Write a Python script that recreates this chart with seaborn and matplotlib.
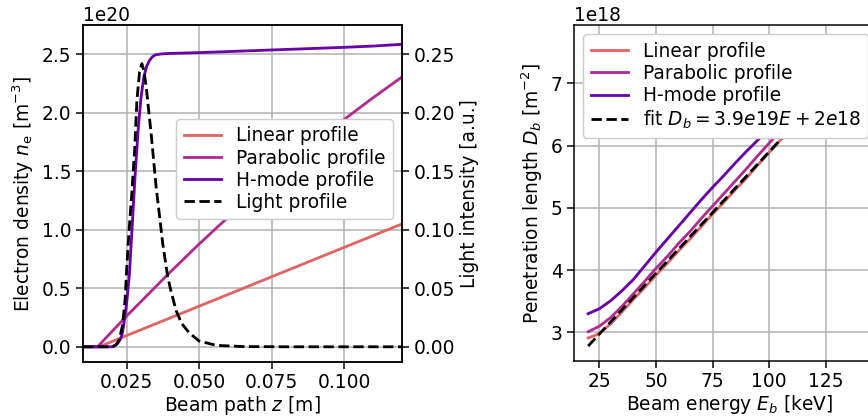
import numpy as np
import pandas as pd
import matplotlib
matplotlib.use("Agg")
import matplotlib.pyplot as plt
import seaborn as sns

# ---------------- data ----------------
# Left panel: electron density profiles along beam path (units 1e20 m^-3)
z_linear = [0.010, 0.0155, 0.040, 0.060, 0.080, 0.100, 0.120]
n_linear = [0.0, 0.0, 0.246, 0.447, 0.648, 0.849, 1.05]

z_parab = [0.010, 0.015, 0.025, 0.040, 0.050, 0.060, 0.070, 0.080,
           0.090, 0.100, 0.110, 0.120]
n_parab = [0.0, 0.0, 0.262, 0.637, 0.877, 1.107, 1.329, 1.542,
           1.746, 1.942, 2.128, 2.306]

z_hmode = [0.010, 0.020, 0.021, 0.022, 0.023, 0.0235, 0.024, 0.025, 0.026,
           0.027, 0.028, 0.029, 0.030, 0.031, 0.032, 0.033, 0.034, 0.035,
           0.037, 0.040, 0.050, 0.060, 0.070, 0.080, 0.090, 0.100, 0.110, 0.120]
n_hmode = [0.0, 0.0, 0.01, 0.03, 0.07, 0.11, 0.18, 0.36, 0.62,
           1.05, 1.48, 1.85, 2.13, 2.31, 2.40, 2.45, 2.48, 2.495,
           2.503, 2.507, 2.514, 2.523, 2.532, 2.541, 2.550, 2.559, 2.570, 2.585]

# Light profile (a.u.)
z_light = [0.010, 0.020, 0.0213, 0.0225, 0.0236, 0.0245, 0.0251, 0.0259,
           0.0268, 0.0278, 0.0286, 0.0295, 0.0303, 0.0310, 0.0318, 0.0335,
           0.0352, 0.0361, 0.0375, 0.0392, 0.0403, 0.0421, 0.0440, 0.0466,
           0.0500, 0.0560, 0.0650, 0.0800, 0.1200]
light = [0.0, 0.0, 0.0015, 0.006, 0.018, 0.040, 0.068, 0.100,
         0.130, 0.168, 0.211, 0.235, 0.242, 0.236, 0.222, 0.182,
         0.137, 0.118, 0.088, 0.060, 0.048, 0.031, 0.020, 0.012,
         0.005, 0.0012, 0.0002, 0.0, 0.0]

# Right panel: penetration length vs beam energy (units 1e18 m^-2)
energy = [20, 25, 30, 35, 40, 45, 50, 55, 60, 65, 70, 75, 80, 85, 90,
          95, 100, 105, 110, 115]
D_linear = [2.91, 2.98, 3.14, 3.33, 3.53, 3.72, 3.92, 4.11, 4.31, 4.50,
            4.70, 4.90, 5.09, 5.29, 5.48, 5.69, 5.89, 6.09, 6.29, 6.48]
D_parab = [3.01, 3.10, 3.24, 3.42, 3.62, 3.82, 4.03, 4.22, 4.43, 4.62,
           4.83, 5.03, 5.23, 5.43, 5.63, 5.84, 6.04, 6.24, 6.44, 6.64]
D_hmode = [3.30, 3.38, 3.51, 3.67, 3.85, 4.07, 4.29, 4.50, 4.71, 4.92,
           5.13, 5.33, 5.52, 5.72, 5.91, 6.09, 6.27, 6.46, 6.65, 6.84]
fit_E = [20, 115]
fit_D = [2.78, 6.485]

labels = ["Linear profile", "Parabolic profile", "H-mode profile"]
colors = ["#e16462", "#b12a90", "#6a00a8"]

# ---------------- style ----------------
S = 1.35
plt.rcParams.update({
    "font.family": ["DejaVu Sans"],
    "font.size": 13.4,
    "axes.linewidth": 0.8 * S,
    "xtick.major.size": 3.5 * S,
    "ytick.major.size": 3.5 * S,
    "xtick.major.width": 0.8 * S,
    "ytick.major.width": 0.8 * S,
    "grid.color": "#b0b0b0",
    "grid.linewidth": 0.8 * S,
    "lines.linewidth": 1.5 * S,
    "legend.framealpha": 1.0,
    "legend.labelspacing": 0.17,
})

fig = plt.figure(figsize=(8.68, 4.19), dpi=100)
W, H = 868.0, 419.0
ax1 = fig.add_axes([83 / W, (H - 362) / H, 319 / W, 337 / H])
ax2 = fig.add_axes([574 / W, (H - 361) / H, 311 / W, 336 / H])

lw = 1.5 * S

# ---------------- left panel ----------------
scale_n = 1e20
for zz, nn, lab, col in zip([z_linear, z_parab, z_hmode],
                            [n_linear, n_parab, n_hmode], labels, colors):
    df = pd.DataFrame({"z": zz, "n": np.array(nn) * scale_n})
    sns.lineplot(data=df, x="z", y="n", ax=ax1, color=col, lw=lw,
                 label=lab, legend=False)
ax1.set_xlim(0.01, 0.12)
ax1.set_ylim(-0.13e20, 2.75e20)
ax1.set_xticks([0.025, 0.050, 0.075, 0.100])
ax1.set_xticklabels(["0.025", "0.050", "0.075", "0.100"])
ax1.set_yticks(np.array([0.0, 0.5, 1.0, 1.5, 2.0, 2.5]) * 1e20)
ax1.grid(True)
ax1.set_xlabel("Beam path $z$ [m]", labelpad=1.0)
ax1.set_ylabel("Electron density $n_\\mathrm{e}$ [m$^{-3}$]")

ax1b = ax1.twinx()
dfl = pd.DataFrame({"z": z_light, "I": light})
sns.lineplot(data=dfl, x="z", y="I", ax=ax1b, color="k", lw=lw,
             linestyle="--", label="Light profile", legend=False)
ax1b.set_ylim(-0.013, 0.275)
ax1b.set_yticks([0.0, 0.05, 0.10, 0.15, 0.20, 0.25])
ax1b.set_yticklabels(["0.00", "0.05", "0.10", "0.15", "0.20", "0.25"])
ax1b.set_ylabel("Light intensity [a.u.]")
ax1b.set_xlim(0.01, 0.12)

h1, l1 = ax1.get_legend_handles_labels()
h2, l2 = ax1b.get_legend_handles_labels()
ax1b.legend(h1 + h2, l1 + l2, loc="upper right",
            bbox_to_anchor=((393 - 83) / 319, (362 - 119) / 337),
            borderaxespad=0.0)

# ---------------- right panel ----------------
for DD, lab, col in zip([D_linear, D_parab, D_hmode], labels, colors):
    df = pd.DataFrame({"E": energy, "D": np.array(DD) * 1e18})
    sns.lineplot(data=df, x="E", y="D", ax=ax2, color=col, lw=lw,
                 label=lab, legend=False)
dff = pd.DataFrame({"E": fit_E, "D": np.array(fit_D) * 1e18})
sns.lineplot(data=dff, x="E", y="D", ax=ax2, color="k", lw=lw,
             linestyle="--", label="fit $D_b = 3.9e19E + 2e18$", legend=False)
ax2.set_xlim(13.75, 151.25)
ax2.set_ylim(2.54e18, 7.94e18)
ax2.set_xticks([25, 50, 75, 100, 125])
ax2.set_yticks(np.array([3, 4, 5, 6, 7]) * 1e18)
ax2.grid(True)
ax2.set_xlabel("Beam energy $E_b$ [keV]", labelpad=1.0)
ax2.set_ylabel("Penetration length $D_b$ [m$^{-2}$]")
ax2.legend(loc="upper left")

fig.savefig("out.png", dpi=100)
